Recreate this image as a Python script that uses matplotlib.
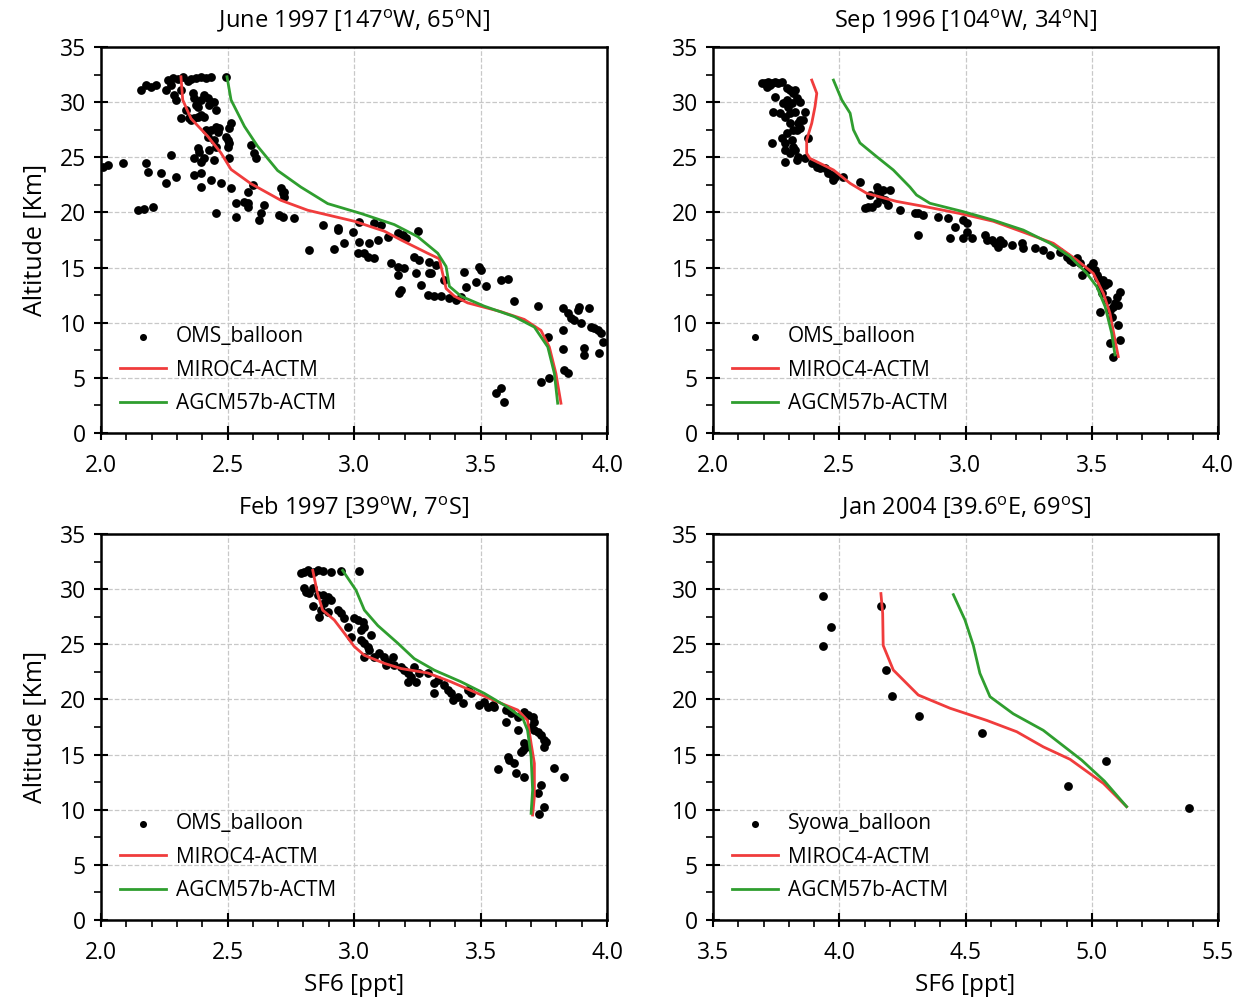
import numpy as np
import matplotlib
matplotlib.use("Agg")
import matplotlib.pyplot as plt
from matplotlib.ticker import MultipleLocator

plt.rcParams['font.family'] = ['Open Sans', 'DejaVu Sans']
plt.rcParams['mathtext.default'] = 'regular'

# ---------------- Data ----------------
titles = ["June 1997 [147$^o$W, 65$^o$N]", "Sep 1996 [104$^o$W, 34$^o$N]",
          "Feb 1997 [39$^o$W, 7$^o$S]", "Jan 2004 [39.6$^o$E, 69$^o$S]"]
obs_labels = ["OMS_balloon", "OMS_balloon", "OMS_balloon", "Syowa_balloon"]
xlims = [(2.0, 4.0), (2.0, 4.0), (2.0, 4.0), (3.5, 5.5)]

# Panel 1: June 1997 (zoom pixel readings -> converted below)
p1_obs_px = [(200,120),(215,115),(230,118),(245,112),(260,122),(270,118),(285,115),(300,112),(315,113),(330,110),(375,110),
    (120,150),(135,135),(150,140),(165,135),(195,150),(210,135),
    (220,165),(225,180),(240,150),(240,235),(255,210),(275,160),(280,175),(285,195),(290,200),(300,180),(310,165),(320,175),
    (325,195),(330,185),(340,185),(345,210),(310,230),(300,225),(290,230),(280,235),(270,240),(265,235),
    (315,270),(330,270),(345,260),(350,275),(355,265),(320,290),(340,300),(375,290),(380,300),(385,310),(390,250),(385,265),
    (450,315),(460,340),(465,355),
    (290,325),(295,335),(325,330),(345,320),(380,320),(385,355),(210,345),(280,355),(300,365),(310,355),(340,360),(135,370),
    (140,395),(65,368),(20,375),(5,380),(180,400),(195,430),(225,410),(280,405),(300,400),(300,440),(330,420),(360,430),
    (390,445),(440,455),(455,435),(540,445),(545,460),(550,470),(550,455),
    (110,510),(130,508),(155,500),(345,520),(405,490),(405,530),(430,485),(440,490),(440,500),(490,495),(480,520),(475,540),
    (535,525),(545,530),(580,535),(665,555),(710,565),(710,570),(755,575),(775,545),(820,550),(840,555),(860,590),(890,580),
    (905,585),(915,595),(950,572),
    (625,630),(700,628),(730,608),(770,638),(790,640),(800,650),(820,655),(830,600),(775,605),(805,610),(870,670),(890,680),
    (910,685),(890,705),(895,760),(900,750),(940,650),(955,660),(985,665),(1005,675),(985,700),(990,700),(945,700),(960,735),
    (980,765),(1000,768),(1020,768),(1030,720),(1045,775),(1065,780),(1080,770),(1090,695),(1095,740),(1125,725),(1135,680),
    (1140,690),(1155,738),(1200,720),(1220,718),(1240,782),(1310,798),
    (1340,890),(1345,1015),(1320,1025),(1385,870),(1385,928),(1390,990),(1400,1000),(1385,805),(1400,820),(1410,835),
    (1420,840),(1430,810),(1435,800),(1440,850),(1450,925),(1450,945),(1465,805),(1470,860),(1480,865),(1490,870),
    (1500,880),(1505,905),(1495,940),(1185,1060),(1200,1045),(1210,1085)]
p1_sf6 = [round(2 + zx / 759, 3) for zx, zy in p1_obs_px]
p1_alt = [round(35.63 - zy / 33.1, 2) for zx, zy in p1_obs_px]

p1_miroc_sf6 = [3.818,3.798,3.772,3.739,3.673,3.581,3.449,3.397,3.364,3.350,3.337,3.291,3.186,3.120,3.001,2.817,2.711,2.593,2.514,2.474,2.422,2.356,2.323,2.316]
p1_miroc_alt = [2.7,5.4,7.8,9.3,10.3,11.0,11.8,12.4,13.1,14.5,15.8,16.3,17.5,18.3,19.2,20.2,21.1,22.6,23.9,25.4,26.9,28.5,30.2,32.3]
p1_agcm_sf6 = [3.805,3.792,3.766,3.713,3.634,3.515,3.423,3.377,3.364,3.331,3.252,3.159,3.028,2.896,2.790,2.698,2.619,2.567,2.514,2.498]
p1_agcm_alt = [2.7,5.4,7.8,9.6,10.55,11.5,12.4,13.3,15.1,16.3,17.8,18.9,19.9,20.8,22.3,23.8,26.0,27.8,30.2,32.3]

# Panel 2: Sep 1996
p2_obs_px = [(155,130),(165,128),(175,125),(185,130),(195,125),(205,128),(215,125),(170,140),(180,135),(195,170),(230,145),
    (240,150),(250,160),(255,150),(220,190),(230,180),(235,200),(245,190),(270,185),(260,175),(190,215),(210,220),(225,230),
    (240,220),(255,215),(270,240),(285,215),(280,240),(265,250),(240,250),(250,270),(260,270),(270,265),(230,280),(215,295),
    (245,300),(185,310),(225,310),(250,320),(225,330),(240,340),(255,330),(265,350),(260,360),(225,365),(285,355),(295,295),
    (305,370),(320,380),(330,385),(345,385),(355,400),(365,405),(370,420),(375,410),(400,410),(450,425),(480,465),(500,440),
    (505,455),(510,470),(520,450),(525,480),(540,450),(535,495),(465,505),(475,500),(485,500),(500,490),(570,510),(615,520),
    (625,520),(640,525),(625,585),(685,530),(715,535),(735,560),(760,540),(770,550),(770,575),(760,595),(785,595),(720,595),
    (825,585),(830,600),(845,600),(855,610),(865,620),(870,600),(880,610),(905,615),(935,610),(940,625),(975,625),(1000,630),
    (1020,645),(1050,635),
    (1070,650),(1080,660),(1090,665),(1100,655),(1110,670),(1115,705),(1130,690),(1140,680),(1150,670),(1155,690),(1160,705),
    (1165,715),(1170,740),(1175,760),(1170,815),(1180,720),(1185,735),(1190,780),(1195,730),(1200,810),(1205,830),(1210,800),
    (1215,790),(1220,770),(1225,795),(1225,855),(1230,755),(1230,900),(1200,910),(1210,950)]
p2_sf6 = [round(2 + (zx - 9) / 757.5, 3) for zx, zy in p2_obs_px]
p2_alt = [round(35.63 - zy / 33.1, 2) for zx, zy in p2_obs_px]

p2_miroc_sf6 = [3.605,3.592,3.572,3.546,3.506,3.440,3.348,3.242,3.110,2.978,2.846,2.727,2.609,2.543,2.477,2.424,2.384,2.371,2.371,2.391,2.404,2.411,2.391]
p2_miroc_alt = [6.93,8.44,10.86,12.67,14.48,15.7,17.2,18.1,19.2,19.9,20.5,21.0,21.73,22.64,23.85,24.45,24.9,25.36,26.57,28.08,29.59,30.8,32.0]
p2_agcm_sf6 = [3.592,3.579,3.553,3.520,3.480,3.414,3.335,3.229,3.110,2.991,2.859,2.806,2.780,2.714,2.648,2.582,2.556,2.543,2.510,2.477]
p2_agcm_alt = [7.08,9.05,11.46,13.27,14.48,16.0,17.2,18.4,19.3,20.07,20.83,21.58,22.3,23.85,25.06,26.3,27.5,29.0,30.2,32.0]

# Panel 3: Feb 1997
p3_obs_px = [(600,130),(610,125),(620,120),(630,130),(640,125),(650,120),(665,123),(690,125),(720,122),(775,122),(610,175),
    (615,185),(625,190),(635,175),(650,195),(665,195),(680,200),(690,210),(670,220),(635,228),(660,240),(655,260),(680,245),
    (710,240),(720,250),(730,265),(740,290),(760,265),(770,270),(785,275),(790,290),(780,300),(810,315),(750,320),(780,330),
    (790,340),(800,350),(805,360),(790,380),(820,380),(835,370),(850,380),(860,395),(875,380),(855,405),(880,405),(900,410),
    (910,420),(920,430),(930,440),(940,410),(920,455),(945,455),(955,430),(980,430),(1000,460),(1010,450),(1030,465),
    (1040,480),(1050,490),(1055,510),(1000,490),(1070,500),(1085,520),(1100,480),(1110,490),(1135,525),(1150,515),(1160,530),
    (1175,525),(1180,530),(1215,540),
    (1230,550),(1250,560),(1270,545),(1280,555),(1295,560),(1300,575),(1215,575),(1250,600),(1290,590),(1300,600),(1310,605),
    (1320,615),(1330,630),(1335,635),(1330,650),(1270,640),(1275,650),(1265,660),(1260,665),(1220,680),(1225,690),(1240,700),
    (1190,718),(1245,728),(1270,740),(1360,715),(1390,740),(1320,765),(1310,790),(1330,830),(1315,852)]
p3_sf6 = [round(2 + zx / 759, 3) for zx, zy in p3_obs_px]
p3_alt = [round(35.36 - zy / 33.09, 2) for zx, zy in p3_obs_px]

p3_miroc_sf6 = [3.706,3.713,3.713,3.700,3.686,3.647,3.581,3.489,3.383,3.291,3.186,3.120,3.041,3.001,2.962,2.922,2.876,2.856,2.837]
p3_miroc_alt = [9.52,11.18,14.2,16.0,18.1,19.04,19.65,20.55,21.6,22.4,22.8,23.27,24.0,24.8,26.0,27.2,28.1,29.6,31.7]
p3_agcm_sf6 = [3.700,3.706,3.700,3.686,3.667,3.607,3.515,3.423,3.318,3.238,3.173,3.094,3.041,3.008,2.955]
p3_agcm_alt = [9.67,11.8,14.8,17.2,18.3,19.3,20.55,21.6,22.65,23.7,25.1,26.7,28.1,29.9,31.7]

# Panel 4: Jan 2004 (Syowa)
p4_sf6 = [3.937,3.966,3.937,4.165,4.185,4.208,4.316,4.567,4.907,5.055,5.385]
p4_alt = [29.4,26.6,24.84,28.5,22.7,20.34,18.5,17.0,12.18,14.45,10.2]
p4_miroc_sf6 = [5.138,5.046,4.914,4.808,4.703,4.584,4.439,4.313,4.214,4.174,4.172,4.165]
p4_miroc_alt = [10.28,12.39,14.57,15.7,17.07,18.1,19.2,20.4,22.67,24.9,27.8,29.6]
p4_agcm_sf6 = [5.138,5.05,4.96,4.808,4.689,4.597,4.557,4.531,4.498,4.452]
p4_agcm_alt = [10.28,12.6,14.5,17.2,18.7,20.25,22.37,24.9,27.2,29.5]

obs = [(p1_sf6, p1_alt), (p2_sf6, p2_alt), (p3_sf6, p3_alt), (p4_sf6, p4_alt)]
miroc = [(p1_miroc_sf6, p1_miroc_alt), (p2_miroc_sf6, p2_miroc_alt),
         (p3_miroc_sf6, p3_miroc_alt), (p4_miroc_sf6, p4_miroc_alt)]
agcm = [(p1_agcm_sf6, p1_agcm_alt), (p2_agcm_sf6, p2_agcm_alt),
        (p3_agcm_sf6, p3_agcm_alt), (p4_agcm_sf6, p4_agcm_alt)]

# ---------------- Plot ----------------
fig = plt.figure(figsize=(12.47, 10.02), dpi=100)
W, H = 1247, 1002
boxes = [(101, 47, 607, 433), (713, 47, 1218, 433),
         (101, 534, 607, 920), (713, 534, 1218, 920)]

red = '#f03c3c'
green = '#2f9e2f'

for i, (x0, y0, x1, y1) in enumerate(boxes):
    ax = fig.add_axes([x0 / W, 1 - y1 / H, (x1 - x0) / W, (y1 - y0) / H])
    ax.grid(True, which='major', linestyle='--', color='#c8c8c8', linewidth=0.9)
    ax.set_axisbelow(True)
    ax.scatter(obs[i][0], obs[i][1], s=40, color='black', zorder=3, label=obs_labels[i], linewidths=0)
    ax.plot(miroc[i][0], miroc[i][1], color=red, lw=2, zorder=4, label='MIROC4-ACTM')
    ax.plot(agcm[i][0], agcm[i][1], color=green, lw=2, zorder=4, label='AGCM57b-ACTM')
    ax.set_xlim(*xlims[i])
    ax.set_ylim(0, 35)
    ax.xaxis.set_major_locator(MultipleLocator(0.5))
    ax.xaxis.set_minor_locator(MultipleLocator(0.1))
    ax.yaxis.set_major_locator(MultipleLocator(5))
    ax.yaxis.set_minor_locator(MultipleLocator(2.5))
    ax.tick_params(which='major', direction='inout', length=10, width=1.5, labelsize=16.5, pad=6)
    ax.tick_params(axis='x', which='major', pad=10)
    ax.tick_params(which='minor', direction='out', length=5, width=1.2)
    for sp in ax.spines.values():
        sp.set_linewidth(1.8)
    ax.set_title(titles[i], fontsize=17, pad=14)
    if i % 2 == 0:
        ax.set_ylabel('Altitude [Km]', fontsize=18, labelpad=9)
    if i >= 2:
        ax.set_xlabel('SF6 [ppt]', fontsize=17.5, labelpad=6)
    ax.legend(loc='lower left', frameon=False, fontsize=15, handlelength=2.2,
              handletextpad=0.5, labelspacing=0.6, borderaxespad=0.5,
              markerscale=0.8, scatterpoints=1)

fig.savefig('out.png', dpi=100)
